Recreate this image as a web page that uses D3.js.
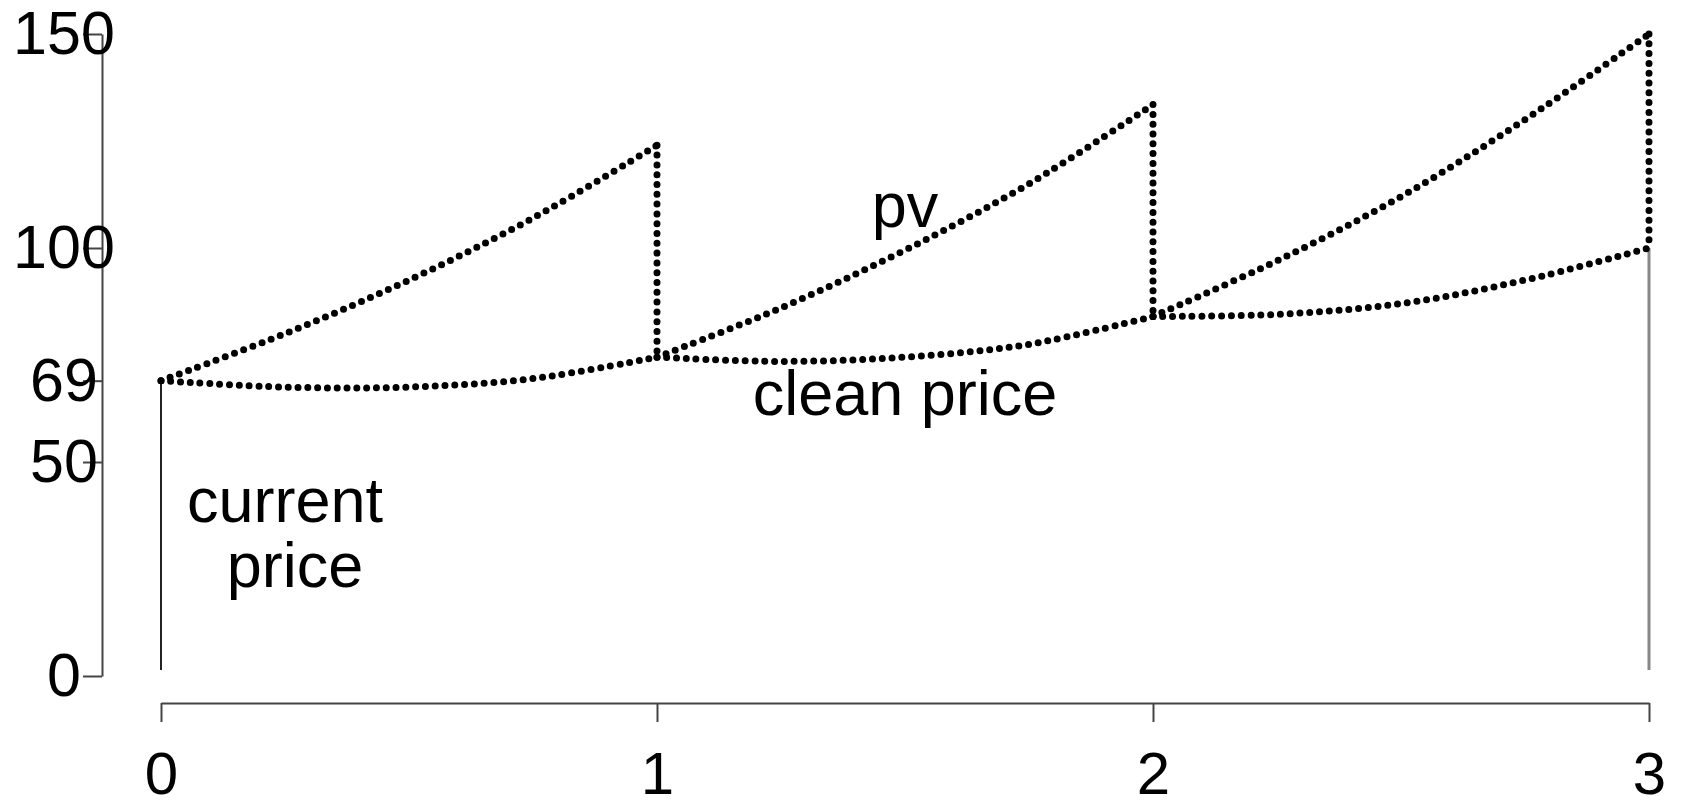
<!DOCTYPE html>
<html>
<head>
<meta charset="utf-8">
<script src="https://cdn.jsdelivr.net/npm/d3@7"></script>
<style>
body { margin: 0; background: #fff; }
text { font-family: "Liberation Sans", Arial, sans-serif; fill: #000; }
</style>
</head>
<body>
<div id="chart"></div>
<script>
// one row per coupon period
const periods = [[0, 0.25, 0.5, 0.75, 1], [1, 1.25, 1.5, 1.75, 2], [2, 2.25, 2.5, 2.75, 3]];
const pvValues = [[69, 80, 92.5, 107, 124], [74.5, 86, 99.5, 115, 133.5], [84, 97, 112, 130, 150]];
const cleanValues = [[69, 67.5, 67.5, 69.5, 74.5], [74.5, 73.5, 74.5, 77.5, 84], [84, 84.5, 87, 92.5, 100]];
const yTicks = [0, 50, 69, 100, 150];
const xTicks = [0, 1, 2, 3];
const currentPrice = 69;
const faceValue = 100;

const width = 1681;
const height = 807;

const svg = d3.select('#chart').append('svg')
    .attr('width', width)
    .attr('height', height);

const x = d3.scaleLinear().domain([0, 3]).range([161, 1649]);
const y = d3.scaleLinear().domain([0, 150]).range([676, 34]);

// y axis
const yAxis = svg.append('g')
    .attr('transform', 'translate(102,0)')
    .call(d3.axisLeft(y).tickValues(yTicks).tickSize(19).tickSizeOuter(0).tickFormat(d3.format('d')));
yAxis.selectAll('path, line').attr('stroke', '#444').attr('stroke-width', 2);
yAxis.selectAll('text')
    .attr('x', -38)
    .attr('text-anchor', 'middle')
    .attr('font-size', 61)
    .attr('font-family', '"Liberation Sans", Arial, sans-serif');

// x axis, drawn below the plot
const xAxis = svg.append('g')
    .attr('transform', 'translate(0,703)')
    .call(d3.axisBottom(x).tickValues(xTicks).tickSize(19).tickSizeOuter(0).tickPadding(29).tickFormat(d3.format('d')));
xAxis.selectAll('path, line').attr('stroke', '#444').attr('stroke-width', 2);
xAxis.selectAll('text')
    .attr('font-size', 60)
    .attr('font-family', '"Liberation Sans", Arial, sans-serif');

// price at start and face value at maturity
svg.append('line')
    .attr('x1', x(0)).attr('x2', x(0))
    .attr('y1', y(0) - 6).attr('y2', y(currentPrice))
    .attr('stroke', '#222').attr('stroke-width', 2);
svg.append('line')
    .attr('x1', x(3)).attr('x2', x(3))
    .attr('y1', y(0) - 6).attr('y2', y(faceValue))
    .attr('stroke', '#888').attr('stroke-width', 3);

const curve = d3.line()
    .x(d => x(d[0]))
    .y(d => y(d[1]))
    .curve(d3.curveCatmullRom);

function dotted(sel) {
    sel.attr('fill', 'none')
        .attr('stroke', '#000')
        .attr('stroke-width', 7)
        .attr('stroke-linecap', 'round')
        .attr('stroke-dasharray', '0 9.8');
}

periods.forEach((ts, i) => {
    svg.append('path')
        .attr('d', curve(ts.map((t, j) => [t, cleanValues[i][j]])))
        .call(dotted);
    svg.append('path')
        .attr('d', curve(ts.map((t, j) => [t, pvValues[i][j]])))
        .call(dotted);
    // coupon paid: pv drops to the clean price
    const end = ts[ts.length - 1];
    svg.append('path')
        .attr('d', d3.line()([[x(end), y(pvValues[i][4])], [x(end), y(cleanValues[i][4])]]))
        .call(dotted);
});

const labels = svg.append('g').attr('font-size', 63).attr('text-anchor', 'middle');
labels.append('text').attr('x', x(1.5)).attr('y', y(105)).text('pv');
labels.append('text').attr('x', x(1.5)).attr('y', y(61)).text('clean price');
labels.append('text').attr('x', x(0.25)).attr('y', y(36)).text('current');
labels.append('text').attr('x', x(0.27)).attr('y', y(20.8)).text('price');
</script>
</body>
</html>
